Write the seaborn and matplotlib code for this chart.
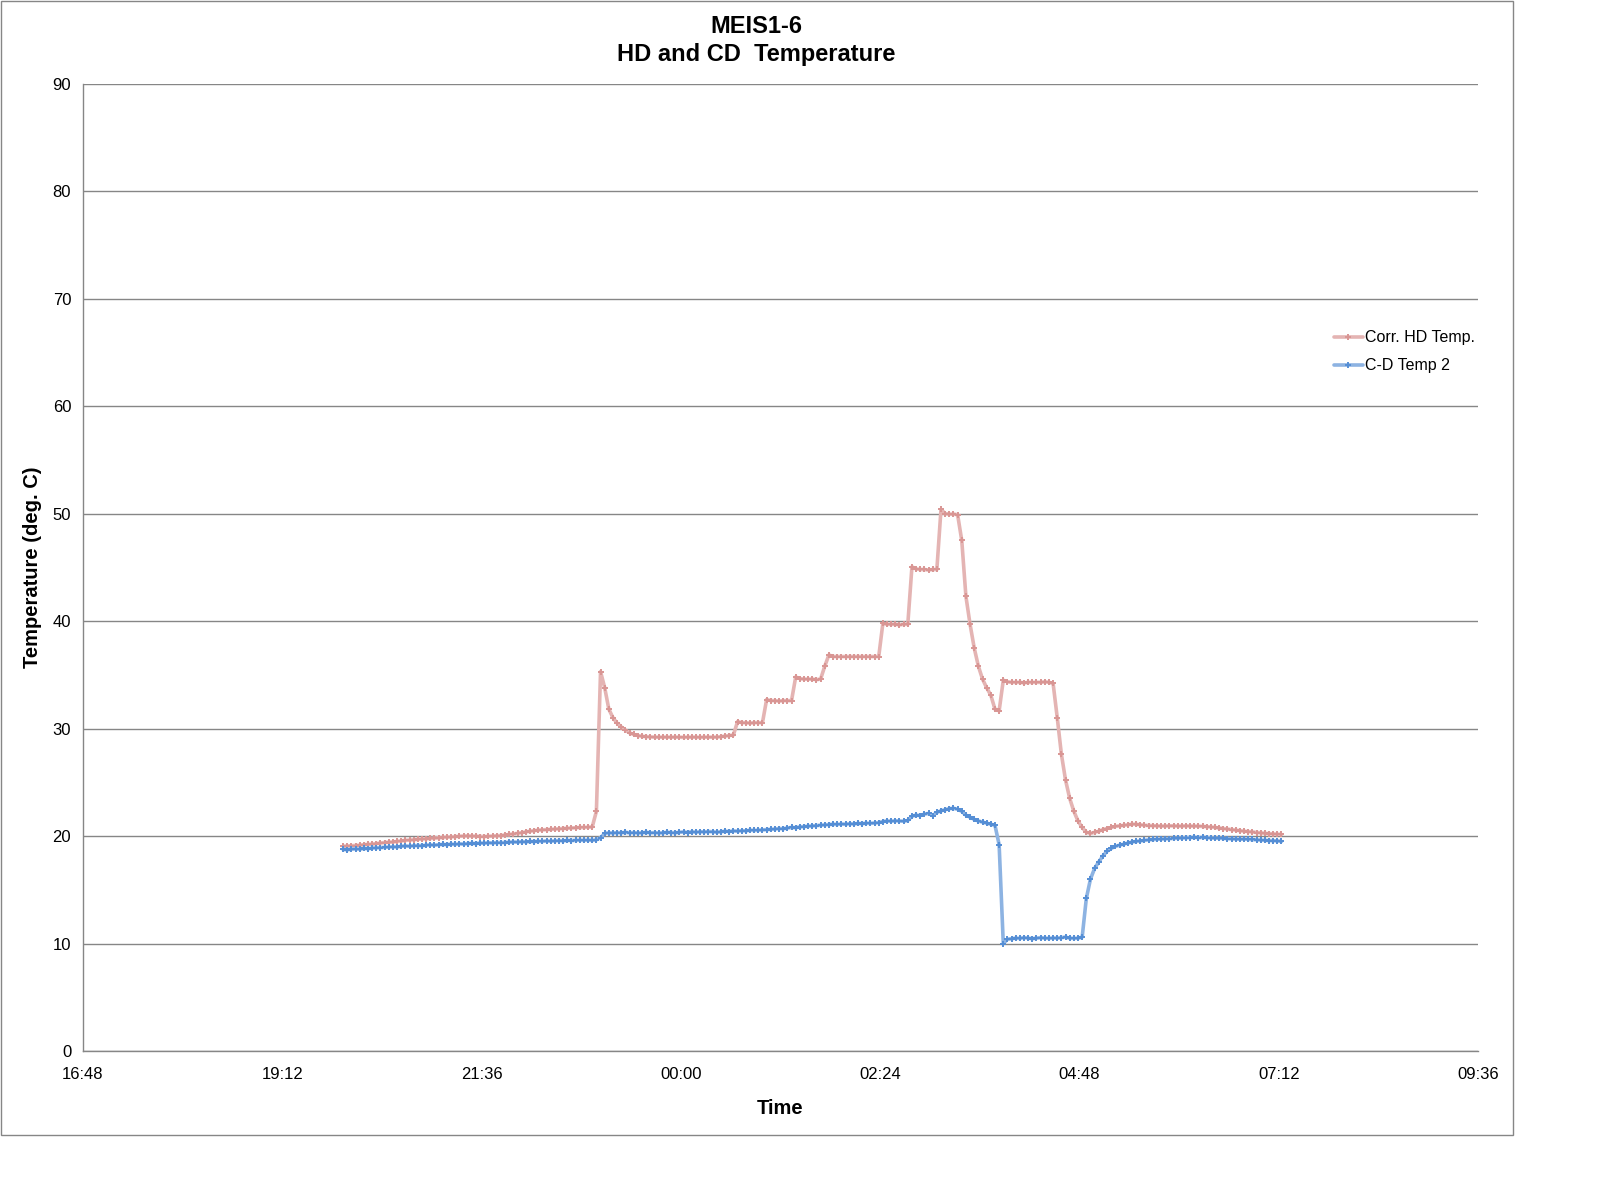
import pandas as pd
import matplotlib.pyplot as plt
import matplotlib.dates as mdates
from matplotlib.patches import Rectangle
import seaborn as sns

# logger readings, one every 3 minutes starting 19:56
start_time = "2011-01-01 19:56"
step = "3min"

hd_temp = [
    19.05, 19.08, 19.1, 19.12, 19.15, 19.2, 19.22, 19.25, 19.3, 19.35,
    19.4, 19.42, 19.45, 19.5, 19.55, 19.6, 19.62, 19.65, 19.7, 19.72,
    19.75, 19.78, 19.8, 19.85, 19.88, 19.9, 19.92, 19.95, 19.98, 20.0,
    20.02, 20.0, 19.98, 19.95, 19.95, 19.98, 20.0, 20.02, 20.05, 20.1,
    20.15, 20.2, 20.25, 20.32, 20.4, 20.45, 20.5, 20.55, 20.58, 20.6,
    20.62, 20.65, 20.68, 20.7, 20.72, 20.75, 20.78, 20.8, 20.8, 20.82,
    20.85, 22.3, 35.3, 33.8, 31.8, 31.0, 30.5, 30.15, 29.85, 29.6,
    29.45, 29.35, 29.28, 29.25, 29.22, 29.2, 29.2, 29.2, 29.2, 29.2,
    29.2, 29.2, 29.18, 29.2, 29.2, 29.2, 29.18, 29.2, 29.2, 29.2,
    29.2, 29.25, 29.3, 29.35, 29.4, 30.65, 30.55, 30.55, 30.5, 30.55,
    30.55, 30.55, 32.7, 32.6, 32.6, 32.55, 32.6, 32.6, 32.6, 34.8,
    34.65, 34.6, 34.6, 34.6, 34.55, 34.6, 35.8, 36.85, 36.7, 36.7,
    36.7, 36.7, 36.7, 36.7, 36.7, 36.7, 36.7, 36.7, 36.7, 36.7,
    39.8, 39.7, 39.7, 39.7, 39.65, 39.7, 39.7, 45.05, 44.85, 44.8,
    44.8, 44.75, 44.8, 44.8, 50.4, 50.0, 49.95, 49.95, 49.9, 47.5,
    42.3, 39.7, 37.5, 35.8, 34.6, 33.8, 33.1, 31.8, 31.65, 34.5,
    34.35, 34.3, 34.3, 34.3, 34.25, 34.3, 34.3, 34.3, 34.3, 34.35,
    34.3, 34.2, 31.0, 27.6, 25.2, 23.5, 22.3, 21.4, 20.8, 20.35,
    20.25, 20.35, 20.45, 20.6, 20.7, 20.8, 20.9, 20.95, 21.0, 21.05,
    21.1, 21.1, 21.05, 21.0, 20.98, 20.95, 20.95, 20.93, 20.93, 20.95,
    20.95, 20.93, 20.93, 20.95, 20.93, 20.93, 20.92, 20.9, 20.88, 20.85,
    20.8, 20.75, 20.7, 20.65, 20.6, 20.55, 20.5, 20.45, 20.42, 20.38,
    20.33, 20.3, 20.25, 20.22, 20.2, 20.18, 20.15,
]

cd_temp = [
    18.75, 18.72, 18.78, 18.8, 18.78, 18.85, 18.82, 18.88, 18.9, 18.92,
    18.95, 18.98, 19.0, 18.98, 19.05, 19.08, 19.05, 19.1, 19.12, 19.1,
    19.15, 19.18, 19.15, 19.2, 19.22, 19.2, 19.25, 19.22, 19.28, 19.25,
    19.3, 19.32, 19.3, 19.35, 19.33, 19.38, 19.35, 19.4, 19.38, 19.4,
    19.42, 19.45, 19.43, 19.48, 19.45, 19.5, 19.48, 19.52, 19.5, 19.55,
    19.52, 19.55, 19.58, 19.55, 19.6, 19.58, 19.6, 19.62, 19.6, 19.63,
    19.6, 19.65, 19.85, 20.25, 20.3, 20.28, 20.32, 20.3, 20.35, 20.3,
    20.32, 20.28, 20.3, 20.35, 20.3, 20.32, 20.28, 20.3, 20.35, 20.32,
    20.3, 20.35, 20.38, 20.33, 20.4, 20.35, 20.4, 20.38, 20.42, 20.4,
    20.35, 20.4, 20.45, 20.42, 20.48, 20.45, 20.5, 20.48, 20.55, 20.52,
    20.55, 20.58, 20.6, 20.62, 20.65, 20.7, 20.68, 20.75, 20.8, 20.78,
    20.85, 20.88, 20.9, 20.95, 20.98, 21.0, 21.02, 21.05, 21.1, 21.08,
    21.12, 21.1, 21.15, 21.12, 21.18, 21.15, 21.2, 21.18, 21.22, 21.25,
    21.35, 21.4, 21.38, 21.42, 21.4, 21.38, 21.45, 21.85, 21.95, 21.9,
    22.05, 22.1, 21.9, 22.2, 22.35, 22.45, 22.55, 22.58, 22.5, 22.3,
    21.95, 21.75, 21.55, 21.4, 21.3, 21.2, 21.1, 21.0, 19.2, 10.0,
    10.4, 10.45, 10.5, 10.48, 10.55, 10.5, 10.45, 10.5, 10.55, 10.5,
    10.48, 10.52, 10.5, 10.55, 10.6, 10.5, 10.48, 10.5, 10.6, 14.2,
    16.0, 17.0, 17.6, 18.15, 18.6, 18.85, 19.05, 19.15, 19.25, 19.35,
    19.45, 19.5, 19.55, 19.6, 19.65, 19.68, 19.7, 19.72, 19.75, 19.75,
    19.78, 19.8, 19.82, 19.85, 19.85, 19.88, 19.85, 19.88, 19.85, 19.83,
    19.8, 19.8, 19.78, 19.75, 19.75, 19.72, 19.7, 19.72, 19.7, 19.68,
    19.65, 19.62, 19.6, 19.58, 19.55, 19.55, 19.5,
]

times = pd.date_range(start_time, periods=len(hd_temp), freq=step)
x_start = pd.Timestamp("2011-01-01 16:48")
x_end = pd.Timestamp("2011-01-02 09:36")

sns.set_style("white")
plt.rcParams["font.family"] = ["Liberation Sans", "DejaVu Sans"]
plt.rcParams["text.color"] = "black"
plt.rcParams["axes.labelcolor"] = "black"

grey = "#868686"
fig = plt.figure(figsize=(15.98, 12.02), dpi=100)
ax = fig.add_axes([0.0519, 0.1256, 0.8730, 0.8048])

sns.lineplot(x=times, y=hd_temp, ax=ax, color="#E4B4B3", lw=2.6,
             marker="+", markersize=4.5, markeredgewidth=1.4,
             markeredgecolor="#D99694", estimator=None, sort=False,
             label="Corr. HD Temp.")
sns.lineplot(x=times, y=cd_temp, ax=ax, color="#8DB3E2", lw=2.6,
             marker="+", markersize=4.5, markeredgewidth=1.4,
             markeredgecolor="#558ED5", estimator=None, sort=False,
             label="C-D Temp 2")

# axes
ax.set_xlim(x_start, x_end)
ax.set_ylim(0, 90)
ax.set_yticks(range(0, 91, 10))
ax.set_xticks(pd.date_range(x_start, x_end, freq="144min"))
ax.xaxis.set_major_formatter(mdates.DateFormatter("%H:%M"))
ax.grid(axis="y", color=grey, lw=1)
ax.grid(axis="x", visible=False)
for side in ["top", "right"]:
    ax.spines[side].set_visible(False)
for side in ["left", "bottom"]:
    ax.spines[side].set_color(grey)
    ax.spines[side].set_linewidth(1)
ax.tick_params(axis="both", direction="out", length=4.5, width=1,
               color=grey, labelsize=12, labelcolor="black")
ax.tick_params(axis="x", pad=7)
ax.tick_params(axis="y", pad=4)

ax.set_xlabel("Time", fontsize=14.5, fontweight="bold")
ax.set_ylabel("Temperature (deg. C)", fontsize=14.5, fontweight="bold")
ax.xaxis.set_label_coords(0.5, -0.05)
ax.yaxis.set_label_coords(-0.0297, 0.5)

ax.legend(loc="upper left", bbox_to_anchor=(0.8968, 0.745), frameon=False,
          fontsize=11.5, handlelength=1.8, handletextpad=0.15,
          borderpad=0, borderaxespad=0, labelspacing=0.82)

fig.text(0.4734, 0.9665, "MEIS1-6\nHD and CD  Temperature", ha="center",
         va="center", fontsize=17, fontweight="bold", linespacing=1.3)

# chart area border
fig.patches.append(Rectangle((0.0006, 0.0557), 0.9462, 0.9435,
                             transform=fig.transFigure, fill=False,
                             edgecolor=grey, lw=1))

fig.savefig("out.png", dpi=100)
plt.close(fig)
